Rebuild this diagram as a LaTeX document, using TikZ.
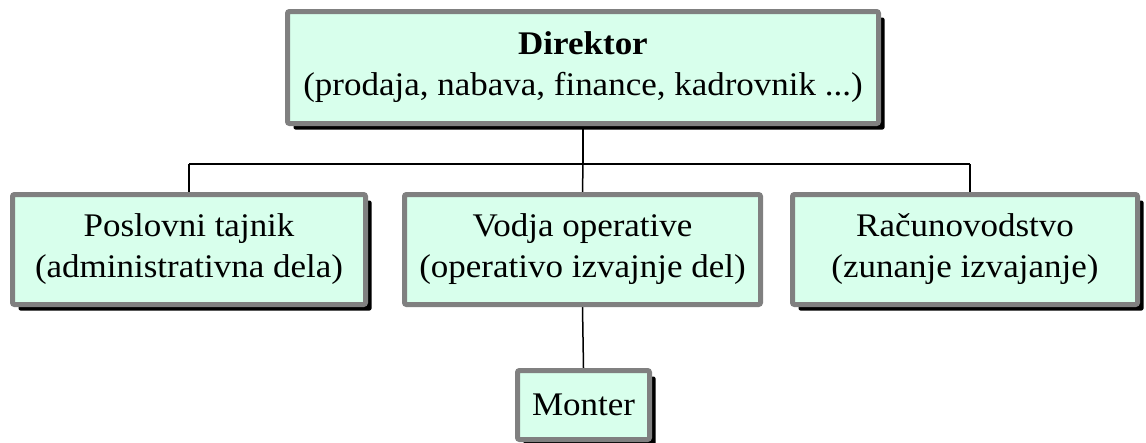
\documentclass[tikz,border=0pt]{standalone}
\usepackage{fontspec}
\setmainfont{Liberation Serif}[FakeStretch=1.06]
\usetikzlibrary{shadows,backgrounds}
\definecolor{mint}{RGB}{216,255,236}
\definecolor{bordergray}{RGB}{128,128,128}
\tikzset{
  orgbox/.style={draw=bordergray, line width=5pt, fill=mint, rounded corners=2pt,
    align=center, inner sep=0pt, font=\fontsize{33}{41}\selectfont},
  shadowed/.style={drop shadow={shadow xshift=6pt, shadow yshift=-6pt, fill=black, opacity=1}},
  conn/.style={draw=black, line width=1.5pt}
}
\begin{document}
\begin{tikzpicture}[x=1pt,y=-1pt]
\useasboundingbox (0,0) rectangle (1146,442);
\node[orgbox,shadowed,minimum width=591pt,minimum height=112pt] (dir) at (583,67.5)
  {\textbf{Direktor}\\(prodaja, nabava, finance, kadrovnik ...)};
\node[orgbox,shadowed,minimum width=353pt,minimum height=110pt] (b1) at (189,249.5)
  {Poslovni tajnik\\(administrativna dela)};
\node[orgbox,minimum width=356pt,minimum height=110pt] (b2) at (582.5,249.5)
  {Vodja operative\\(operativo izvajnje del)};
\node[orgbox,shadowed,minimum width=345pt,minimum height=110pt] (b3) at (965,249.5)
  {Računovodstvo\\(zunanje izvajanje)};
\node[orgbox,shadowed,minimum width=132pt,minimum height=69pt] (mon) at (583.5,405)
  {Monter};
\coordinate (j1) at (189,164);
\coordinate (j2) at (583,164);
\coordinate (j3) at (970,164);
\begin{scope}[on background layer]
\draw[conn] (j1) -- (j3);
\draw[conn] (dir.south) -- (j2);
\draw[conn] (j2) -- (b2.north);
\draw[conn] (j1) -- (b1.north);
\draw[conn] (j3) -- (j3 |- b3.north);
\draw[conn] (b2.south) -- (mon.north);
\end{scope}
\end{tikzpicture}
\end{document}
